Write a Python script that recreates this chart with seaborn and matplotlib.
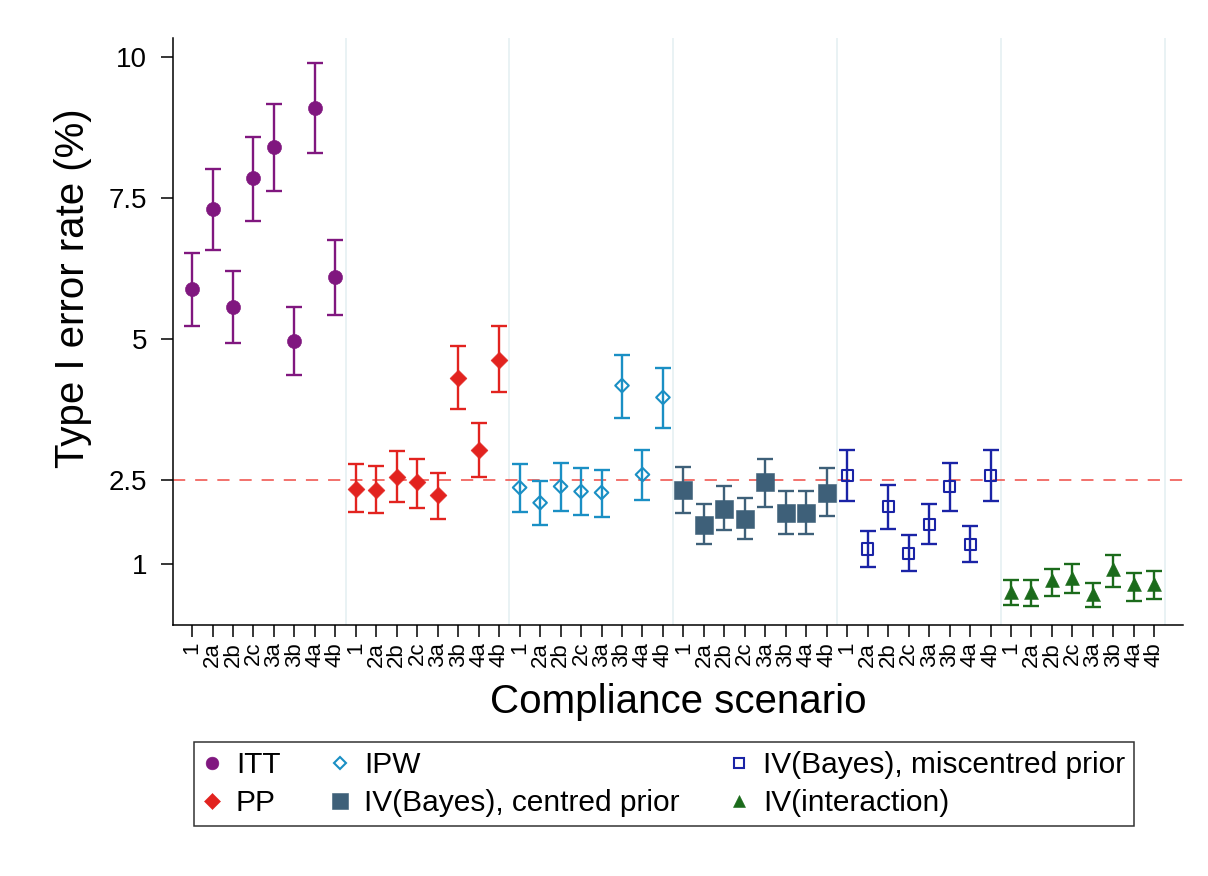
import numpy as np
import pandas as pd
import matplotlib
matplotlib.use("Agg")
import matplotlib.pyplot as plt
from matplotlib.lines import Line2D
import seaborn as sns

sns.set_style("white")
plt.rcParams["font.family"] = ["Liberation Sans", "DejaVu Sans"]
plt.rcParams.update({"text.color": "black", "axes.labelcolor": "black",
                     "xtick.color": "black", "ytick.color": "black"})

# ---------- data ----------
scenarios = ["1", "2a", "2b", "2c", "3a", "3b", "4a", "4b"]
methods = ["ITT", "PP", "IPW", "IV(Bayes), centred prior",
           "IV(Bayes), miscentred prior", "IV(interaction)"]

itt_rate = [5.88, 7.30, 5.57, 7.85, 8.40, 4.97, 9.09, 6.09]
itt_lo = [5.22, 6.57, 4.93, 7.10, 7.62, 4.36, 8.29, 5.43]
itt_hi = [6.53, 8.02, 6.21, 8.59, 9.16, 5.57, 9.89, 6.76]

pp_rate = [2.34, 2.32, 2.55, 2.45, 2.22, 4.31, 3.03, 4.63]
pp_lo = [1.93, 1.91, 2.11, 2.00, 1.81, 3.76, 2.55, 4.05]
pp_hi = [2.77, 2.75, 3.00, 2.86, 2.62, 4.88, 3.51, 5.22]

ipw_rate = [2.36, 2.09, 2.38, 2.29, 2.27, 4.17, 2.59, 3.96]
ipw_lo = [1.93, 1.70, 1.95, 1.88, 1.84, 3.60, 2.14, 3.42]
ipw_hi = [2.78, 2.48, 2.80, 2.71, 2.68, 4.72, 3.02, 4.49]

ivc_rate = [2.32, 1.70, 1.98, 1.81, 2.45, 1.91, 1.91, 2.27]
ivc_lo = [1.90, 1.35, 1.61, 1.45, 2.02, 1.54, 1.54, 1.86]
ivc_hi = [2.73, 2.06, 2.38, 2.18, 2.87, 2.29, 2.29, 2.70]

ivm_rate = [2.57, 1.27, 2.02, 1.19, 1.70, 2.38, 1.35, 2.57]
ivm_lo = [2.13, 0.95, 1.63, 0.88, 1.35, 1.95, 1.03, 2.13]
ivm_hi = [3.02, 1.59, 2.41, 1.51, 2.06, 2.80, 1.67, 3.02]

ivi_rate = [0.51, 0.51, 0.71, 0.76, 0.47, 0.92, 0.64, 0.65]
ivi_lo = [0.28, 0.26, 0.44, 0.49, 0.24, 0.60, 0.35, 0.39]
ivi_hi = [0.72, 0.72, 0.92, 1.01, 0.67, 1.17, 0.85, 0.88]

rates = [itt_rate, pp_rate, ipw_rate, ivc_rate, ivm_rate, ivi_rate]
lows = [itt_lo, pp_lo, ipw_lo, ivc_lo, ivm_lo, ivi_lo]
highs = [itt_hi, pp_hi, ipw_hi, ivc_hi, ivm_hi, ivi_hi]

rows = []
for g, m in enumerate(methods):
    for i, s in enumerate(scenarios):
        rows.append({"method": m, "scenario": s, "pos": g * len(scenarios) + i,
                     "rate": rates[g][i], "lo": lows[g][i], "hi": highs[g][i]})
df = pd.DataFrame(rows)

# ---------- styles ----------
colors = {"ITT": "#80177f", "PP": "#e2231f", "IPW": "#1a8fc4",
          "IV(Bayes), centred prior": "#3e6079",
          "IV(Bayes), miscentred prior": "#1a23a6",
          "IV(interaction)": "#1b6b1b"}
markers = {"ITT": "o", "PP": "D", "IPW": "D", "IV(Bayes), centred prior": "s",
           "IV(Bayes), miscentred prior": "s", "IV(interaction)": "^"}
msize = {"ITT": 10.2, "PP": 8.6, "IPW": 6.9, "IV(Bayes), centred prior": 12.4,
         "IV(Bayes), miscentred prior": 8.0, "IV(interaction)": 10.0}
hollow = {"IPW", "IV(Bayes), miscentred prior"}

fig = plt.figure(figsize=(12.08, 8.76), dpi=100)
ax = fig.add_axes([173 / 1208, 1 - 625 / 876, 1010 / 1208, 587 / 876])

n_sc = len(scenarios)
for g in range(len(methods)):
    ax.axvline(g * n_sc + n_sc - 0.5, color="#e3eff1", lw=1.1, zorder=0)
ax.axhline(2.5, color="#ef4a44", lw=1.1, dashes=(8, 6.5), zorder=1)

for m in methods:
    sub = df[df["method"] == m]
    c = colors[m]
    ax.errorbar(sub["pos"], sub["rate"],
                yerr=[sub["rate"] - sub["lo"], sub["hi"] - sub["rate"]],
                fmt="none", ecolor=c, elinewidth=1.7, capsize=5.6, capthick=1.7,
                zorder=2)
    lw = 1.5 if m in hollow else 0.4
    sns.scatterplot(data=sub, x="pos", y="rate", marker=markers[m],
                    s=msize[m] ** 2, color=c, edgecolor=c, linewidth=lw,
                    legend=False, ax=ax, zorder=3)
    if m in hollow:
        ax.collections[-1].set_facecolor("none")

ax.set_xlim(-0.93, 48.4)
ax.set_ylim(-0.08, 10.34)
ax.set_yticks([1, 2.5, 5, 7.5, 10])
ax.set_yticklabels(["1", "2.5", "5", "7.5", "10"])
ax.set_xticks(range(len(df)))
ax.set_xticklabels(scenarios * len(methods), rotation=90)

for side in ["top", "right"]:
    ax.spines[side].set_visible(False)
for side in ["left", "bottom"]:
    ax.spines[side].set_linewidth(1.1)
    ax.spines[side].set_color("black")

ax.tick_params(axis="both", direction="out", length=8.6, width=1.1,
               color="black", left=True, bottom=True)
ax.tick_params(axis="y", labelsize=20, pad=10)
ax.tick_params(axis="x", labelsize=16, pad=3.5)

ax.set_xlabel("Compliance scenario", fontsize=29)
ax.set_ylabel("Type I error rate (%)", fontsize=29)
ax.xaxis.set_label_coords(0.5, -0.098)
ax.yaxis.set_label_coords(-0.08, 0.574)

handles = []
for m in methods:
    c = colors[m]
    handles.append(Line2D([], [], linestyle="none", marker=markers[m],
                          markersize=msize[m] * 0.9, color=c, markeredgecolor=c,
                          markerfacecolor="none" if m in hollow else c,
                          markeredgewidth=1.5 if m in hollow else 0.4))
leg = fig.legend(handles, methods, loc="upper left",
                 bbox_to_anchor=(194 / 1208, 1 - 742 / 876), ncol=3,
                 frameon=True, fancybox=False, edgecolor="black",
                 fontsize=21.5, handlelength=0.6, handletextpad=0.5,
                 columnspacing=1.7, borderpad=0.3, labelspacing=0.35,
                 borderaxespad=0)
leg.get_frame().set_linewidth(1.1)

fig.savefig("out.png", dpi=100, facecolor="white")
